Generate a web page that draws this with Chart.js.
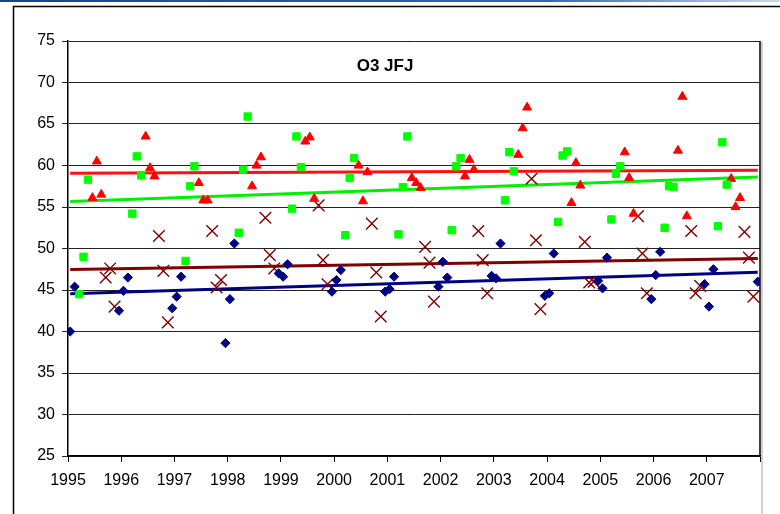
<!DOCTYPE html>
<html>
<head>
<meta charset="utf-8">
<script src="https://cdn.jsdelivr.net/npm/chart.js@4/dist/chart.umd.min.js"></script>
<style>
  html, body { margin: 0; padding: 0; background: #fff; }
  canvas { display: block; }
</style>
</head>
<body>
<canvas id="c" width="780" height="514"></canvas>
<script>
// ---- data ----
const chartTitle = 'O3 JFJ';
const years = [1995, 1996, 1997, 1998, 1999, 2000, 2001, 2002, 2003, 2004, 2005, 2006, 2007];
const xTickLabels = ['1995','1996','1997','1998','1999','2000','2001','2002','2003','2004','2005','2006','2007',''];
const yTicks = [25, 30, 35, 40, 45, 50, 55, 60, 65, 70, 75];

// monthly O3 values, Jan..Dec for each year
const o3_1995 = [40.0, 45.4, 44.5, 49.0, 58.3, 56.1, 60.5, 56.5, 46.5, 47.6, 43.0, 42.5];
const o3_1996 = [44.9, 46.5, 54.2, 61.1, 58.8, 63.5, 59.7, 58.7, 51.5, 47.3, 41.1, 42.8];
const o3_1997 = [44.2, 46.6, 48.5, 57.5, 59.9, 57.9, 55.8, 55.8, 52.1, 45.3, 46.2, 38.6];
const o3_1998 = [43.9, 50.6, 51.9, 59.5, 65.9, 57.5, 60.0, 61.0, 53.7, 49.2, 47.6, 47.0];
const o3_1999 = [46.6, 48.1, 54.8, 63.5, 59.8, 62.9, 63.4, 56.0, 55.2, 48.6, 45.7, 44.8];
const o3_2000 = [46.2, 47.4, 51.6, 58.5, 60.9, 60.0, 55.7, 59.2, 53.0, 47.1, 41.8, 44.8];
const o3_2001 = [45.1, 46.6, 51.7, 57.4, 63.5, 58.5, 57.9, 57.3, 50.2, 48.3, 43.6, 45.4];
const o3_2002 = [48.4, 46.5, 52.2, 59.9, 60.9, 58.7, 60.7, 59.5, 52.1, 48.6, 44.6, 46.7];
const o3_2003 = [46.4, 50.6, 55.8, 61.6, 59.3, 61.3, 64.5, 67.0, 58.4, 51.0, 42.7, 44.3];
const o3_2004 = [44.6, 49.4, 53.2, 61.2, 61.7, 55.5, 60.3, 57.6, 50.8, 45.9, 46.0, 46.1];
const o3_2005 = [45.2, 48.9, 53.5, 59.0, 59.9, 61.6, 58.5, 54.2, 53.9, 49.4, 44.6, 43.9];
const o3_2006 = [46.8, 49.6, 52.5, 57.5, 57.4, 61.8, 68.3, 53.9, 52.1, 44.6, 45.5, 45.7];
const o3_2007 = [43.0, 47.5, 52.7, 62.8, 57.7, 58.4, 55.0, 56.1, 52.0, 48.9, 44.2, 46.0];
const o3ByYear = [o3_1995, o3_1996, o3_1997, o3_1998, o3_1999, o3_2000, o3_2001,
                  o3_2002, o3_2003, o3_2004, o3_2005, o3_2006, o3_2007];

// season of each month (Jan..Dec)
const seasons = ['DJF', 'MAM', 'JJA', 'SON'];
const seasonOfMonth = ['DJF','DJF','MAM','MAM','MAM','JJA','JJA','JJA','SON','SON','SON','DJF'];

// linear trend lines per season: value at first month and last month
const trendStart = [44.55, 55.65, 59.06, 47.47];
const trendEnd   = [47.15, 58.62, 59.42, 48.80];

// ---- build datasets ----
const seasonPoints = { DJF: [], MAM: [], JJA: [], SON: [] };
years.forEach((y, yi) => {
  o3ByYear[yi].forEach((v, mi) => {
    seasonPoints[seasonOfMonth[mi]].push({ x: y + (mi + 0.5) / 12, y: v });
  });
});
const firstX = years[0] + 0.5 / 12;
const lastX = years[years.length - 1] + 11.5 / 12;

const styles = {
  DJF: { color: '#000080', pointStyle: 'rectRot', radius: 4.6, bw: 1 },
  MAM: { color: '#00FF00', pointStyle: 'rect', radius: 5.2, bw: 1 },
  JJA: { color: '#FF0000', pointStyle: 'triangle', radius: 5.2, bw: 1 },
  SON: { color: '#800000', pointStyle: 'crossRot', radius: 8.2, bw: 1.4 }
};
const trendColors = { DJF: '#000080', MAM: '#00EE00', JJA: '#FF1010', SON: '#800000' };

const datasets = [];
seasons.forEach(s => {
  const st = styles[s];
  datasets.push({
    type: 'scatter', label: s, data: seasonPoints[s],
    pointStyle: st.pointStyle, pointRadius: st.radius, pointHoverRadius: st.radius,
    backgroundColor: st.color, borderColor: st.color, borderWidth: st.bw,
    showLine: false, order: 1
  });
});
seasons.forEach((s, i) => {
  datasets.push({
    type: 'line', label: s + ' trend',
    data: [{ x: firstX, y: trendStart[i] }, { x: lastX, y: trendEnd[i] }],
    borderColor: trendColors[s], borderWidth: 3, pointRadius: 0, fill: false,
    tension: 0, order: 2
  });
});

const framePlugin = {
  id: 'frame',
  beforeDraw(chart) {
    const ctx = chart.ctx;
    ctx.save();
    ctx.fillStyle = '#fff';
    ctx.fillRect(0, 0, chart.width, chart.height);
    const g = ctx.createLinearGradient(0, 0, chart.width, 0);
    g.addColorStop(0, '#1f3f8f');
    g.addColorStop(0.7, '#3a63b8');
    g.addColorStop(1, '#cfd8ea');
    ctx.fillStyle = g;
    ctx.fillRect(0, 0, chart.width, 2);
    ctx.strokeStyle = '#000';
    ctx.lineWidth = 1.5;
    ctx.beginPath();
    ctx.moveTo(13.5, chart.height);
    ctx.lineTo(13.5, 6.5);
    ctx.lineTo(chart.width, 6.5);
    ctx.stroke();
    ctx.restore();
  },
  afterDraw(chart) {
    const ctx = chart.ctx;
    const a = chart.chartArea;
    ctx.save();
    ctx.strokeStyle = '#d0d0d0';
    ctx.lineWidth = 2;
    ctx.beginPath();
    ctx.moveTo(a.right + 2, a.top + 1);
    ctx.lineTo(a.right + 2, chart.height);
    ctx.stroke();
    ctx.strokeStyle = '#000';
    ctx.lineWidth = 1.5;
    ctx.beginPath();
    ctx.moveTo(a.right, a.top);
    ctx.lineTo(a.right, a.bottom);
    ctx.stroke();
    ctx.fillStyle = '#000';
    ctx.font = 'bold 17px "Liberation Sans", Arial, sans-serif';
    ctx.textAlign = 'center';
    ctx.textBaseline = 'middle';
    ctx.fillText(chartTitle, 385, 66);
    ctx.restore();
  }
};

new Chart(document.getElementById('c'), {
  data: { datasets },
  options: {
    responsive: false,
    animation: false,
    events: [],
    layout: { padding: { left: 0, top: 41, right: 20, bottom: 0 } },
    plugins: { legend: { display: false }, tooltip: { enabled: false }, title: { display: false } },
    scales: {
      x: {
        type: 'linear', min: 1995, max: 2008,
        afterFit(axis) { axis.height = 58; },
        afterBuildTicks(axis) {
          axis.ticks = xTickLabels.map((t, i) => ({ value: 1995 + i }));
        },
        grid: { drawOnChartArea: false, drawTicks: true, tickLength: 6, color: '#000', lineWidth: 1 },
        border: { display: true, color: '#000', width: 1.5 },
        ticks: {
          autoSkip: false, maxRotation: 0, padding: 9, color: '#000',
          font: { family: '"Liberation Sans", Arial, sans-serif', size: 16 },
          callback(v, i) { return xTickLabels[i]; }
        }
      },
      y: {
        type: 'linear', min: 25, max: 75,
        afterFit(axis) { axis.width = 68; },
        afterBuildTicks(axis) { axis.ticks = yTicks.map(v => ({ value: v })); },
        grid: { drawOnChartArea: true, drawTicks: true, tickLength: 6, color: '#222', lineWidth: 1 },
        border: { display: true, color: '#000', width: 1.5 },
        ticks: {
          padding: 7, color: '#000',
          font: { family: '"Liberation Sans", Arial, sans-serif', size: 16 },
          callback(v) { return String(v); }
        }
      }
    }
  },
  plugins: [framePlugin]
});
</script>
</body>
</html>
